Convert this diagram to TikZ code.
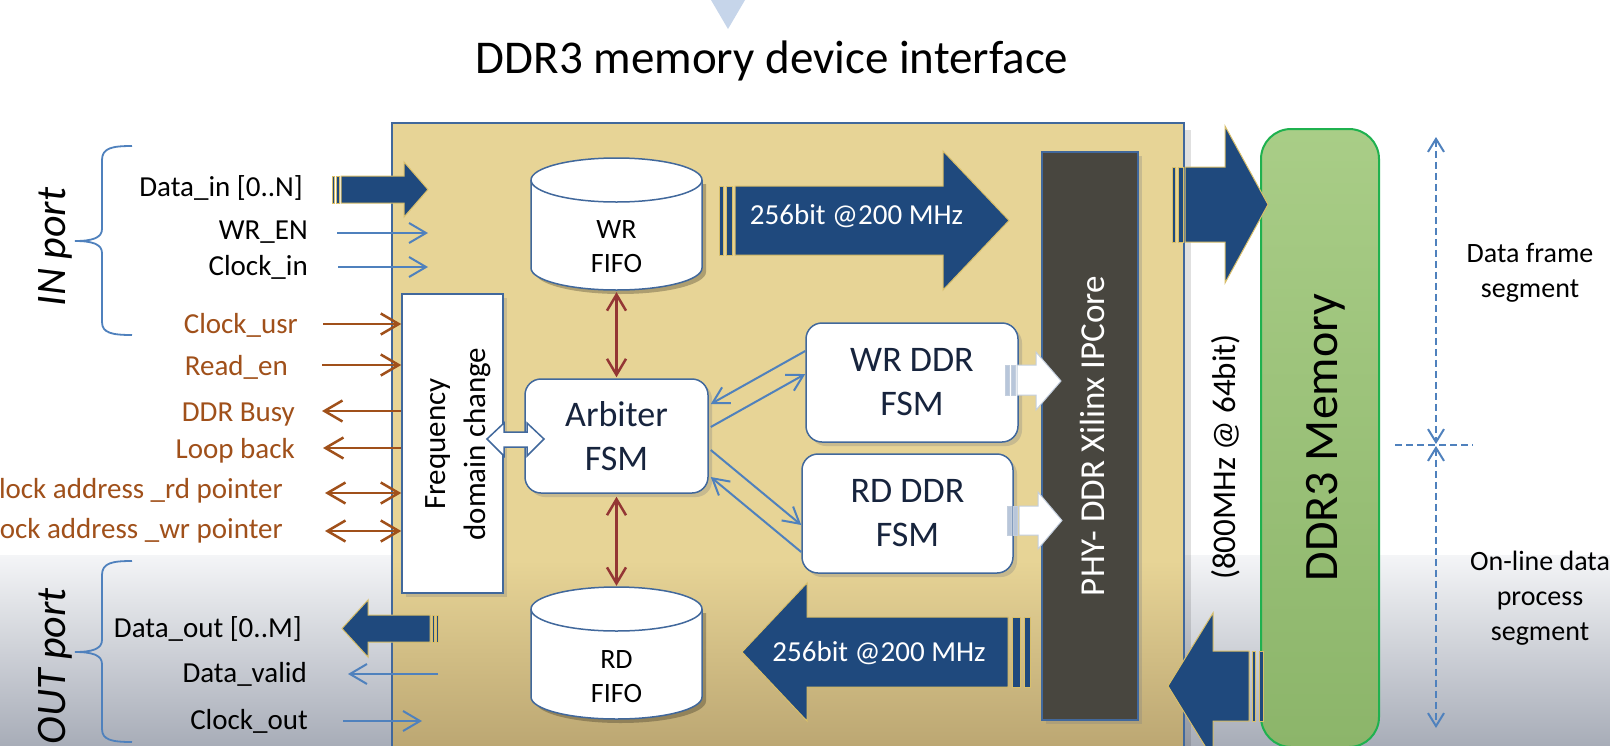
\documentclass[tikz,border=0pt]{standalone}
\usepackage{fontspec}
\setmainfont{Carlito}
\usetikzlibrary{arrows.meta,shadows,calc}
\definecolor{navy}{HTML}{1F497D}
\definecolor{goldc}{HTML}{D9BF6A}
\definecolor{fpgafill}{HTML}{E7D496}
\definecolor{fpgabot}{HTML}{BBA672}
\definecolor{boxblue}{HTML}{41689C}
\definecolor{boxtext}{HTML}{17243D}
\definecolor{sigblue}{HTML}{4F81BD}
\definecolor{brownc}{HTML}{A0501A}
\definecolor{redc}{HTML}{943634}
\definecolor{phyfill}{HTML}{48463F}
\definecolor{greentop}{HTML}{A9CD87}
\definecolor{greenbot}{HTML}{8CB56A}
\definecolor{greenedge}{HTML}{1FB14F}
\definecolor{bandtop}{HTML}{F4F5F7}
\definecolor{bandbot}{HTML}{A8ADB8}
\definecolor{tric}{HTML}{C6D5EA}
\definecolor{wedge}{HTML}{C3CEDD}
\definecolor{wstripec}{HTML}{B8C6DA}
\tikzset{
  lbl/.style={font=\fontsize{29}{35}\selectfont, inner sep=0pt, anchor=base east},
  blbl/.style={lbl, text=brownc},
  sigarr/.style={draw=sigblue, line width=2pt, >={Straight Barb[length=17pt,width=20pt]}},
  brnarr/.style={draw=brownc, line width=2.5pt, >={Straight Barb[length=18pt,width=21pt]}},
  redarr/.style={draw=redc, line width=2.5pt, >={Straight Barb[length=16pt,width=19pt]}, <->},
  diagarr/.style={draw=sigblue, line width=2pt, >={Straight Barb[length=16pt,width=18pt]}},
  dasharr/.style={draw=sigblue, line width=2pt, dash pattern=on 7pt off 4pt, >={Straight Barb[length=13pt,width=16pt]}, <->},
  bigarr/.style={fill=navy, draw=goldc, line width=1pt},
  warr/.style={fill=white, draw=wedge, line width=1pt},
  wstripe/.style={fill=wstripec, draw=wedge, line width=0.8pt},
  wbox/.style={draw=boxblue, fill=white, line width=1.5pt, drop shadow={opacity=0.3, shadow xshift=4pt, shadow yshift=-4pt}},
  rbox/.style={wbox, rounded corners=16pt, align=center, text=boxtext, font=\fontsize{36}{44}\selectfont},
  fifo/.style={draw=boxblue, fill=white, line width=1.5pt},
  fifotxt/.style={align=center, font=\fontsize{28}{34}\selectfont, inner sep=0pt},
  rtxt/.style={rotate=90, anchor=base, inner sep=0pt},
  brace/.style={draw=sigblue, line width=1.8pt},
}
\begin{document}
\begin{tikzpicture}[x=1pt,y=-1pt]
\useasboundingbox (0,0) rectangle (1610,745);
\clip (0,0) rectangle (1610,745);
\fill[white] (0,0) rectangle (1610,745);
\shade[top color=bandtop, bottom color=bandbot] (0,555) rectangle (1610,745);
\fill[tric] (711,0) -- (745,0) -- (728,29) -- cycle;
\node[font=\fontsize{47}{56}\selectfont, anchor=base, inner sep=0pt] (title) at (772,73) {DDR3 memory device interface};

% FPGA block
\fill[black, opacity=0.12] (1184,130) rectangle (1191,760);
\fill[fpgafill] (392,123) rectangle (1184,560);
\shade[top color=fpgafill, bottom color=fpgabot] (392,560) rectangle (1184,750);
\draw[boxblue, line width=1.5pt] (392,760) -- (392,123) -- (1184,123) -- (1184,760);

% braces and port names
\draw[brace] (132,146) .. controls (112,146) and (102,148) .. (102,160) -- (102,229) .. controls (102,238) and (92,241) .. (75,241) .. controls (92,241) and (102,244) .. (102,253) -- (102,322) .. controls (102,333) and (112,335) .. (132,335);
\draw[brace] (132,561) .. controls (112,561) and (102,563) .. (102,575) -- (102,640) .. controls (102,649) and (92,652) .. (75,652) .. controls (92,652) and (102,655) .. (102,664) -- (102,729) .. controls (102,740) and (112,742) .. (132,742);
\node[rtxt, font=\itshape\fontsize{42}{50}\selectfont] (inport) at (65,247) {IN port};
\node[rtxt, font=\itshape\fontsize{42}{50}\selectfont] (outport) at (65,666) {OUT port};

% PHY and DDR
\node[draw=boxblue, fill=phyfill, line width=1.5pt, minimum width=96pt, minimum height=568pt, inner sep=0pt, drop shadow={opacity=0.3, shadow xshift=4pt, shadow yshift=-4pt}] (phy) at (1090,436) {};
\node[rtxt, text=white, font=\fontsize{35}{42}\selectfont] (phytxt) at (1104,436) {PHY- DDR Xilinx IPCore};
\node[draw=greenedge, line width=2pt, rounded corners=30pt, top color=greentop, bottom color=greenbot, minimum width=118pt, minimum height=618pt, inner sep=0pt] (ddr) at (1320,438) {};
\node[rtxt, font=\fontsize{48}{58}\selectfont] (ddrtxt) at (1337,437.5) {DDR3 Memory};
\node[rtxt, font=\fontsize{33}{40}\selectfont] (ddrrate) at (1235,457) {(800MHz @ 64bit)};

% big arrows
\path[bigarr] (332,176) rectangle (334.5,203);
\path[bigarr] (336.5,176) rectangle (339,203);
\path[bigarr] (341,176) -- (404,176) -- (404,162) -- (428,189.5) -- (404,217) -- (404,203) -- (341,203) -- cycle;

\path[bigarr] (719,186) rectangle (723,255);
\path[bigarr] (726.5,186) rectangle (732,255);
\path[bigarr] (735,186) -- (943,186) -- (943,151) -- (1009,220.5) -- (943,290) -- (943,255) -- (735,255) -- cycle;
\node[anchor=base, inner sep=0pt, text=white, font=\fontsize{29}{35}\selectfont] (wrbus) at (856.5,224) {256bit @200 MHz};

\path[bigarr] (1012,617) rectangle (1020,687);
\path[bigarr] (1024,617) rectangle (1030,687);
\path[bigarr] (1008,617) -- (807,617) -- (807,583) -- (742,652) -- (807,721) -- (807,687) -- (1008,687) -- cycle;
\node[anchor=base, inner sep=0pt, text=white, font=\fontsize{29}{35}\selectfont] (rdbus) at (879,661) {256bit @200 MHz};

\path[bigarr] (432,615) rectangle (434,642);
\path[bigarr] (436,615) rectangle (438.5,642);
\path[bigarr] (430,615) -- (368,615) -- (368,600) -- (342,628.5) -- (368,657) -- (368,642) -- (430,642) -- cycle;

\path[bigarr] (1172,167) rectangle (1175.5,242);
\path[bigarr] (1178.5,167) rectangle (1183,242);
\path[bigarr] (1185,167) -- (1225,167) -- (1225,126) -- (1268,204.5) -- (1225,283) -- (1225,242) -- (1185,242) -- cycle;

\path[bigarr] (1252,651) rectangle (1255.5,721);
\path[bigarr] (1259,651) rectangle (1263,721);
\path[bigarr] (1249,651) -- (1213,651) -- (1213,613) -- (1168,686) -- (1213,759) -- (1213,721) -- (1249,721) -- cycle;

% white boxes
\node[wbox, minimum width=101pt, minimum height=299pt, inner sep=0pt] (freq) at (452.5,443.5) {};
\node[rtxt, font=\fontsize{31}{38}\selectfont] (freqA) at (445,444) {Frequency};
\node[rtxt, font=\fontsize{31}{38}\selectfont] (freqB) at (485,444) {domain change};
\node[rbox, minimum width=183pt, minimum height=114pt] (arb) at (616.5,436) {Arbiter\\FSM};
\node[rbox, minimum width=212pt, minimum height=119pt] (wrfsm) at (912,382.5) {WR DDR\\FSM};
\node[rbox, minimum width=211pt, minimum height=119pt] (rdfsm) at (907.5,513.5) {RD DDR\\FSM};

% FIFOs
\node[inner sep=0pt, minimum width=171pt, minimum height=132pt] (wrfifo) at (616.5,224) {};
\fill[black, opacity=0.25] (535,184) -- (535,272) .. controls (535,284.2) and (573.3,294) .. (620.5,294) .. controls (667.7,294) and (706,284.2) .. (706,272) -- (706,184) -- cycle;
\path[fifo] (531,180) -- (531,268) .. controls (531,280.2) and (569.3,290) .. (616.5,290) .. controls (663.7,290) and (702,280.2) .. (702,268) -- (702,180) .. controls (702,167.85) and (663.7,158) .. (616.5,158) .. controls (569.3,158) and (531,167.85) .. (531,180) -- cycle;
\draw[boxblue, line width=1.5pt] (531,180) .. controls (531,192.15) and (569.3,202) .. (616.5,202) .. controls (663.7,202) and (702,192.15) .. (702,180);
\node[fifotxt] (wrfifotxt) at (616.5,247) {WR\\FIFO};

\node[inner sep=0pt, minimum width=171pt, minimum height=132pt] (rdfifo) at (616.5,653) {};
\fill[black, opacity=0.25] (535,613) -- (535,701) .. controls (535,713.2) and (573.3,723) .. (620.5,723) .. controls (667.7,723) and (706,713.2) .. (706,701) -- (706,613) -- cycle;
\path[fifo] (531,609) -- (531,697) .. controls (531,709.2) and (569.3,719) .. (616.5,719) .. controls (663.7,719) and (702,709.2) .. (702,697) -- (702,609) .. controls (702,596.85) and (663.7,587) .. (616.5,587) .. controls (569.3,587) and (531,596.85) .. (531,609) -- cycle;
\draw[boxblue, line width=1.5pt] (531,609) .. controls (531,621.15) and (569.3,631) .. (616.5,631) .. controls (663.7,631) and (702,621.15) .. (702,609);
\node[fifotxt] (rdfifotxt) at (616.5,677) {RD\\FIFO};

% white block arrows to PHY
\path[wstripe] (1005,365) rectangle (1009,395);
\path[wstripe] (1011,365) rectangle (1015,395);
\path[warr] (1017,365) -- (1036,365) -- (1036,352) -- (1061,381) -- (1036,410) -- (1036,395) -- (1017,395) -- cycle;
\path[wstripe] (1007,506) rectangle (1011,535);
\path[wstripe] (1013,506) rectangle (1017,535);
\path[warr] (1019,506) -- (1038,506) -- (1038,492) -- (1062,520.5) -- (1038,549) -- (1038,535) -- (1019,535) -- cycle;

% freq <-> arbiter block arrow
\path[fill=white, draw=boxblue, line width=1.5pt] (487,439) -- (504,423) -- (504,432) -- (527,432) -- (527,423) -- (544,439) -- (527,456) -- (527,447) -- (504,447) -- (504,456) -- cycle;

% internal connectors
\draw[redarr] ([yshift=-2pt]wrfifo.south) -- ([yshift=1pt]arb.north);
\draw[redarr] ([yshift=-3pt]arb.south) -- ([yshift=1pt]rdfifo.north);
\draw[diagarr,->] ([yshift=31.5pt]wrfsm.west) -- ([xshift=2pt,yshift=32pt]arb.east);
\draw[diagarr,->] ([xshift=2pt,yshift=9pt]arb.east) -- ([yshift=8.5pt]wrfsm.west);
\draw[diagarr,->] ([xshift=2pt,yshift=-14pt]arb.east) -- ([yshift=-11.5pt]rdfsm.west);
\draw[diagarr,->] ([yshift=-38.5pt]rdfsm.west) -- ([xshift=2pt,yshift=-41pt]arb.east);

% left labels
\node[lbl] (datain) at (303,196) {Data\_in [0..N]};
\node[lbl] (wren) at (308,239) {WR\_EN};
\node[lbl] (clkin) at (308,275) {Clock\_in};
\node[blbl] (clkusr) at (298,333) {Clock\_usr};
\node[blbl] (readen) at (288,375) {Read\_en};
\node[blbl] (busy) at (295,421) {DDR Busy};
\node[blbl] (loop) at (295,458) {Loop back};
\node[blbl] (rdptr) at (283,498) {Clock address \_rd pointer};
\node[blbl] (wrptr) at (283,538) {Clock address \_wr pointer};
\node[lbl] (dataout) at (302,637) {Data\_out [0..M]};
\node[lbl] (dvalid) at (307,682) {Data\_valid};
\node[lbl] (clkout) at (308,729) {Clock\_out};

% left signal connectors
\coordinate (wrenA) at (337,233); \coordinate (wrenB) at (428,233);
\coordinate (clkinA) at (338,267); \coordinate (clkinB) at (428,267);
\coordinate (clkusrA) at (323,324);
\coordinate (readenA) at (322,365);
\coordinate (busyA) at (322,411);
\coordinate (loopA) at (323,448);
\coordinate (rdptrA) at (325,493);
\coordinate (wrptrA) at (325,531);
\coordinate (dvalidA) at (438,674); \coordinate (dvalidB) at (348,674);
\coordinate (clkoutA) at (343,721); \coordinate (clkoutB) at (422,721);
\draw[sigarr,->] (wrenA) -- (wrenB);
\draw[sigarr,->] (clkinA) -- (clkinB);
\draw[brnarr,->] (clkusrA) -- (clkusrA -| freq.west);
\draw[brnarr,->] (readenA) -- (readenA -| freq.west);
\draw[brnarr,<-] (busyA) -- (busyA -| freq.west);
\draw[brnarr,<-] (loopA) -- (loopA -| freq.west);
\draw[brnarr,<->] (rdptrA) -- (rdptrA -| freq.west);
\draw[brnarr,<->] (wrptrA) -- (wrptrA -| freq.west);
\draw[sigarr,->] (dvalidA) -- (dvalidB);
\draw[sigarr,->] (clkoutA) -- (clkoutB);

% right segment markers
\coordinate (segA) at (1436,137); \coordinate (segM1) at (1436,444);
\coordinate (segM2) at (1436,446); \coordinate (segB) at (1436,728);
\coordinate (hA) at (1395,445); \coordinate (hB) at (1473,445);
\draw[dasharr] (segA) -- (segM1);
\draw[dasharr] (segM2) -- (segB);
\draw[draw=sigblue, line width=2pt, dash pattern=on 7pt off 4pt] (hA) -- (hB);
\node[align=center, font=\fontsize{28}{35}\selectfont] (dfs) at (1530,273) {Data frame\\segment};
\node[align=center, font=\fontsize{28}{35}\selectfont] (olds) at (1540,598) {On-line data\\process\\segment};
\end{tikzpicture}
\end{document}
